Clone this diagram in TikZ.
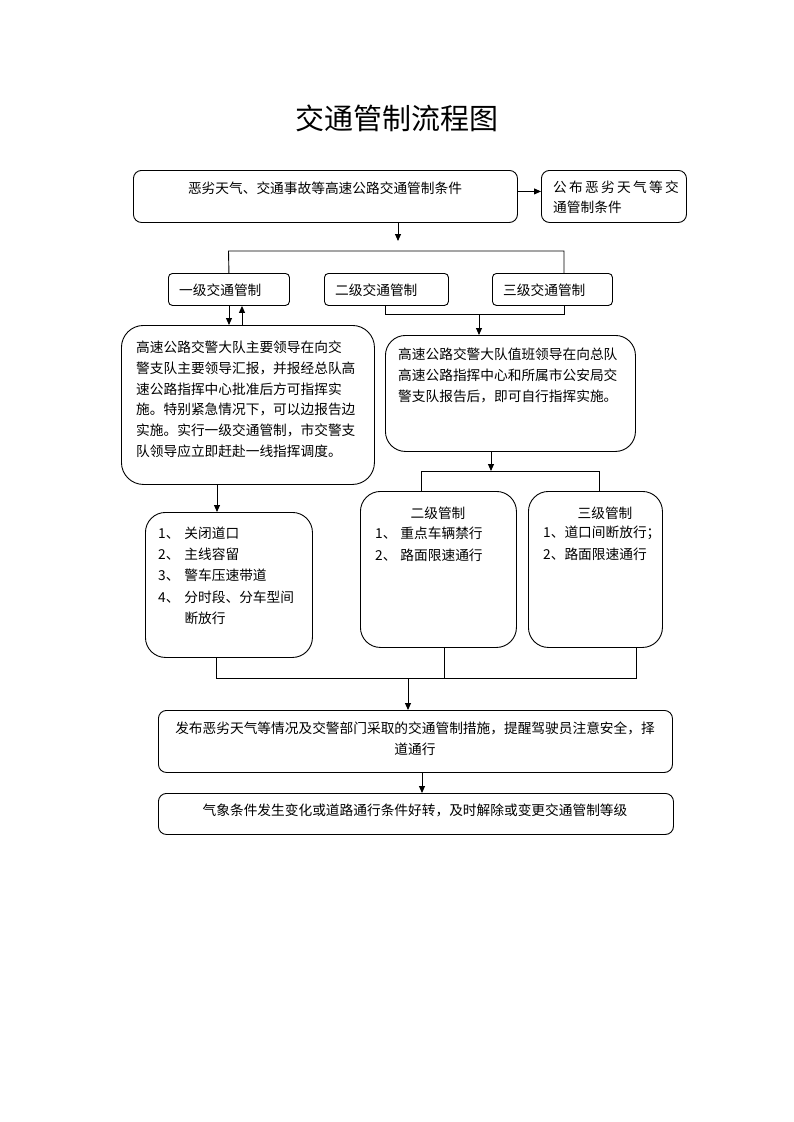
\documentclass[tikz,border=0pt]{standalone}
\usepackage{fontspec}
\setmainfont{Noto Sans CJK SC}
\usetikzlibrary{arrows.meta,calc}
\begin{document}
\begin{tikzpicture}[x=1pt,y=-1pt,
  box/.style={draw, line width=0.9pt, rounded corners=#1, anchor=north west, inner sep=0pt},
  box/.default=8pt,
  txt/.style={font=\fontsize{13.7}{20.7}\selectfont, inner sep=0pt, align=left},
  ctxt/.style={font=\fontsize{13.7}{21}\selectfont, inner sep=0pt, align=center},
  line/.style={line width=0.9pt},
  arr/.style={line width=0.9pt, -{Triangle[length=7pt,width=6pt]}}]
\useasboundingbox[fill=white] (0,0) rectangle (793,1122);

% title
\node[font=\fontsize{29}{34}\selectfont, inner sep=0pt] (title) at (397,118) {交通管制流程图};

% boxes
\node[box=8pt, minimum width=384pt, minimum height=52pt] (A) at (133,170) {};
\node[box=8pt, minimum width=145pt, minimum height=52pt] (B) at (541,170) {};
\node[box=4pt, minimum width=121pt, minimum height=32pt] (L1) at (168,273) {};
\node[box=4pt, minimum width=124pt, minimum height=32pt] (L2) at (324,273) {};
\node[box=4pt, minimum width=120pt, minimum height=32pt] (L3) at (492,273) {};
\node[box=22pt, minimum width=253pt, minimum height=159pt] (C) at (121,325) {};
\node[box=20pt, minimum width=250pt, minimum height=116pt] (D) at (385,335) {};
\node[box=20pt, minimum width=167pt, minimum height=145pt] (E1) at (145,512) {};
\node[box=20pt, minimum width=156pt, minimum height=156pt] (E2) at (360,491) {};
\node[box=20pt, minimum width=134pt, minimum height=156pt] (E3) at (528,491) {};
\node[box=8pt, minimum width=514pt, minimum height=62pt] (F) at (158,710) {};
\node[box=8pt, minimum width=515pt, minimum height=41pt] (G) at (158,793) {};

% texts
\node[ctxt] (At) at (325,188) {恶劣天气、交通事故等高速公路交通管制条件};
\node[txt, anchor=north west, font=\fontsize{13.7}{20}\selectfont] (Bt) at (553,181) {公\,布\,恶\,劣\,天\,气\,等\,交\\通管制条件};
\node[txt, anchor=west] (L1t) at (179,290) {一级交通管制};
\node[txt, anchor=west] (L2t) at (335,290) {二级交通管制};
\node[txt, anchor=west] (L3t) at (503,290) {三级交通管制};
\node[txt, anchor=north west] (Ct) at (136,341) {高速公路交警大队主要领导在向交\\警支队主要领导汇报，并报经总队高\\速公路指挥中心批准后方可指挥实\\施。特别紧急情况下，可以边报告边\\实施。实行一级交通管制，市交警支\\队领导应立即赶赴一线指挥调度。};
\node[txt, anchor=north west] (Dt) at (398,348) {高速公路交警大队值班领导在向总队\\高速公路指挥中心和所属市公安局交\\警支队报告后，即可自行指挥实施。};
\node[txt, anchor=north west, font=\fontsize{13.7}{21.2}\selectfont] (E1t) at (158,523.5) {\begin{tabular}{@{}l@{\hspace{5pt}}l@{}}1、& 关闭道口\\ 2、& 主线容留\\ 3、& 警车压速带道\\ 4、& 分时段、分车型间\\ & 断放行\end{tabular}};
\node[ctxt] (E2h) at (438,513) {二级管制};
\node[txt, anchor=north west, font=\fontsize{13.7}{22}\selectfont] (E2t) at (375,523) {\begin{tabular}{@{}l@{\hspace{4pt}}l@{}}1、& 重点车辆禁行\\ 2、& 路面限速通行\end{tabular}};
\node[ctxt] (E3h) at (605,513) {三级管制};
\node[txt, anchor=north west, font=\fontsize{13.7}{22}\selectfont] (E3t) at (543,526) {1、道口间断放行；\\2、路面限速通行};
\node[ctxt] (Ft) at (415,739) {发布恶劣天气等情况及交警部门采取的交通管制措施，提醒驾驶员注意安全，择\\道通行};
\node[ctxt] (Gt) at (415,810) {气象条件发生变化或道路通行条件好转，及时解除或变更交通管制等级};

% connectors
\draw[arr] ([yshift=5pt]A.east) -- ([yshift=5pt]B.west);
\coordinate (a1) at (398,241);
\draw[arr] (A.south -| a1) -- (a1);
\coordinate (t1) at (228.5,251);
\coordinate (t3) at (564,251);
\draw[line] (L1.north) -- (t1) -- (t3) -- (L3.north -| t3);
\coordinate (c1) at (229,325);
\coordinate (c2) at (242,325);
\draw[arr] (L1.south -| c1) -- (C.north -| c1);
\draw[arr] (C.north -| c2) -- (L1.south -| c2);
\coordinate (b2) at (385,314);
\coordinate (b3) at (564,314);
\coordinate (bm) at (479,314);
\draw[line] (L2.south -| b2) -- (b2) -- (b3) -- (L3.south -| b3);
\draw[arr] (bm) -- (D.north -| bm);
\coordinate (ce) at (217,0);
\draw[arr] (C.south -| ce) -- (E1.north -| ce);
\coordinate (dm) at (491,471);
\coordinate (d2) at (421,471);
\coordinate (d3) at (599,471);
\draw[arr] (D.south -| dm) -- (dm);
\draw[line] (E2.north -| d2) -- (d2) -- (d3) -- (E3.north -| d3);
\coordinate (g1) at (216,678);
\coordinate (g2) at (444,678);
\coordinate (g3) at (636,678);
\coordinate (gm) at (408,678);
\draw[line] (E1.south -| g1) -- (g1) -- (g3) -- (E3.south -| g3);
\draw[line] (E2.south -| g2) -- (g2);
\draw[arr] (gm) -- (F.north -| gm);
\coordinate (fg) at (422,0);
\draw[arr] (F.south -| fg) -- (G.north -| fg);
\end{tikzpicture}
\end{document}
